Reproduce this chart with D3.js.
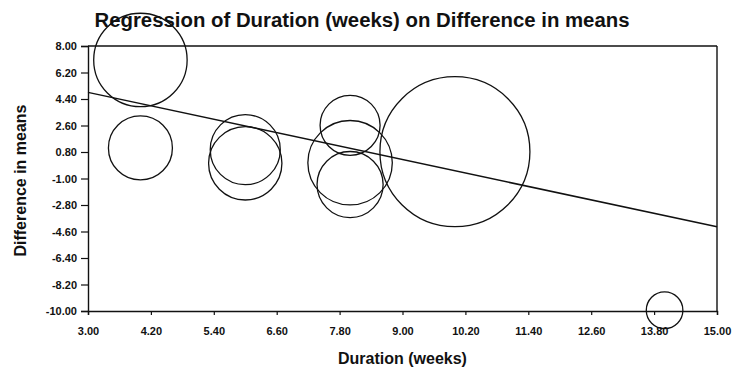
<!DOCTYPE html>
<html>
<head>
<meta charset="utf-8">
<script src="https://cdn.jsdelivr.net/npm/d3@7"></script>
<style>
  html, body { margin: 0; padding: 0; background: #fff; }
  svg { display: block; font-family: "Liberation Sans", Arial, sans-serif; }
</style>
</head>
<body>
<svg id="chart" width="734" height="369"></svg>
<script>
// ---- data ----
const durations = [4, 4, 6, 6, 8, 8, 8, 10, 14];
const differences = [7.05, 1.08, 0.96, 0.03, 2.61, 0.07, -1.41, 0.82, -9.95];
const weights = [38.8, 18.2, 21.8, 23.9, 16.0, 31.7, 19.4, 100, 5.95];
const regressionX = [3, 15];
const regressionY = [4.85, -4.28];
const xTicks = [3.0, 4.2, 5.4, 6.6, 7.8, 9.0, 10.2, 11.4, 12.6, 13.8, 15.0];
const yTicks = [8.0, 6.2, 4.4, 2.6, 0.8, -1.0, -2.8, -4.6, -6.4, -8.2, -10.0];
const titleText = "Regression of Duration (weeks) on Difference in means";
const xLabel = "Duration (weeks)";
const yLabel = "Difference in means";

// ---- layout ----
const pLeft = 88, pRight = 717, pTop = 46, pBottom = 311;
const svg = d3.select("#chart");

const x = d3.scaleLinear().domain([3, 15]).range([pLeft, pRight]);
const y = d3.scaleLinear().domain([-10, 8]).range([pBottom, pTop]);
const r = d3.scaleSqrt().domain([0, 100]).range([0, 75]);

// frame (top and right)
svg.append("line").attr("x1", pLeft).attr("x2", pRight).attr("y1", pTop).attr("y2", pTop)
  .attr("stroke", "#111").attr("stroke-width", 1.4);
svg.append("line").attr("x1", pRight).attr("x2", pRight).attr("y1", pTop).attr("y2", pBottom)
  .attr("stroke", "#111").attr("stroke-width", 1.4);

// axes
const fmt = d => d.toFixed(2);
const xAxis = d3.axisBottom(x).tickValues(xTicks).tickFormat(fmt).tickSize(4).tickPadding(14);
const yAxis = d3.axisLeft(y).tickValues(yTicks).tickFormat(fmt).tickSize(7).tickPadding(4);

const gx = svg.append("g").attr("transform", `translate(0,${pBottom})`).call(xAxis);
const gy = svg.append("g").attr("transform", `translate(${pLeft},0)`).call(yAxis);
[gx, gy].forEach(g => {
  g.select(".domain").attr("stroke", "#111").attr("stroke-width", 1.4);
  g.selectAll(".tick line").attr("stroke", "#111").attr("stroke-width", 1.2);
  g.selectAll(".tick text").attr("fill", "#111").attr("font-size", 11).attr("font-weight", "bold")
    .attr("font-family", "'Liberation Sans', Arial, sans-serif");
});
gx.selectAll(".tick text").attr("dy", "0.55em");

// bubbles
const pts = durations.map((d, i) => ({ x: d, y: differences[i], w: weights[i] }));
svg.append("g").selectAll("circle").data(pts).join("circle")
  .attr("cx", d => x(d.x)).attr("cy", d => y(d.y)).attr("r", d => r(d.w))
  .attr("fill", "none").attr("stroke", "#111").attr("stroke-width", 1.3);

// regression line
const regPts = regressionX.map((v, i) => [v, regressionY[i]]);
svg.append("path").datum(regPts)
  .attr("d", d3.line().x(d => x(d[0])).y(d => y(d[1])))
  .attr("fill", "none").attr("stroke", "#111").attr("stroke-width", 1.5);

// title
svg.append("text").attr("x", 362).attr("y", 27).attr("text-anchor", "middle")
  .attr("font-size", 20).attr("font-weight", "bold").attr("fill", "#111")
  .attr("textLength", 535).attr("lengthAdjust", "spacingAndGlyphs")
  .text(titleText);

// axis labels
svg.append("text").attr("x", (pLeft + pRight) / 2).attr("y", 364).attr("text-anchor", "middle")
  .attr("font-size", 16).attr("font-weight", "bold").attr("fill", "#111")
  .text(xLabel);
svg.append("text").attr("transform", `translate(26,${(pTop + pBottom) / 2 + 2}) rotate(-90)`)
  .attr("text-anchor", "middle")
  .attr("font-size", 16).attr("font-weight", "bold").attr("fill", "#111")
  .text(yLabel);
</script>
</body>
</html>
